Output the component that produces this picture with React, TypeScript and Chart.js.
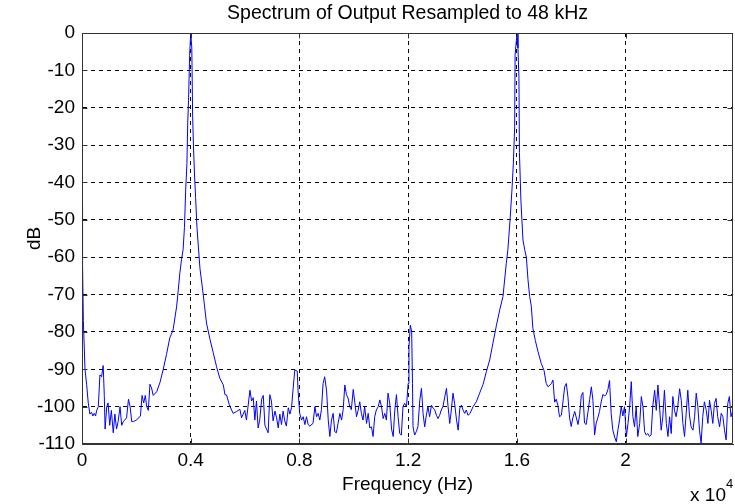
import React, { useEffect, useRef } from 'react';
import { Chart, registerables } from 'chart.js';

Chart.register(...registerables);

// ---- data ----
const freqHz: number[] = [
  0, 20, 50, 110, 170, 230, 290, 350, 400, 450,
  500, 540, 600, 660, 720, 780, 820, 850, 910, 960,
  1020, 1080, 1150, 1210, 1270, 1330, 1400, 1460, 1520, 1640,
  1710, 1770, 1830, 1890, 2020, 2150, 2210, 2270, 2330, 2380,
  2440, 2500, 2560, 2620, 2750, 2870, 2990, 3110, 3230, 3350,
  3480, 3540, 3600, 3660, 3720, 3770, 3815, 3860, 3890, 3920,
  3960, 4000, 4040, 4070, 4100, 4140, 4180, 4230, 4340, 4460,
  4580, 4710, 4830, 4950, 5070, 5200, 5260, 5320, 5420, 5560,
  5690, 5810, 5870, 5990, 6050, 6180, 6240, 6300, 6360, 6420,
  6480, 6540, 6610, 6670, 6730, 6850, 6910, 6970, 7030, 7100,
  7160, 7220, 7280, 7340, 7400, 7460, 7520, 7590, 7650, 7710,
  7770, 7830, 7920, 7950, 8010, 8080, 8140, 8200, 8260, 8320,
  8380, 8500, 8570, 8630, 8690, 8750, 8810, 8870, 8930, 9000,
  9060, 9120, 9180, 9240, 9300, 9360, 9420, 9490, 9550, 9610,
  9670, 9730, 9790, 9850, 9910, 9980, 10040, 10100, 10160, 10220,
  10280, 10340, 10400, 10470, 10530, 10590, 10650, 10710, 10770, 10830,
  10900, 10960, 11020, 11080, 11140, 11200, 11260, 11320, 11390, 11450,
  11510, 11570, 11630, 11690, 11750, 11810, 11870, 11940, 12000, 12030,
  12080, 12130, 12160, 12180, 12240, 12300, 12360, 12430, 12490, 12550,
  12610, 12670, 12730, 12790, 12860, 12920, 12980, 13040, 13100, 13160,
  13220, 13280, 13350, 13410, 13470, 13530, 13590, 13650, 13710, 13780,
  13840, 13900, 13960, 14020, 14080, 14140, 14200, 14270, 14390, 14510,
  14630, 14760, 14880, 15000, 15120, 15250, 15370, 15490, 15610, 15670,
  15750, 15820, 15870, 15920, 15935, 15970, 16010, 16040, 16077, 16095,
  16150, 16225, 16290, 16350, 16410, 16470, 16530, 16590, 16680, 16780,
  16900, 17000, 17080, 17150, 17270, 17330, 17390, 17450, 17510, 17570,
  17640, 17760, 17820, 17880, 17940, 18000, 18060, 18130, 18190, 18250,
  18310, 18370, 18430, 18490, 18550, 18620, 18680, 18740, 18800, 18860,
  18920, 18980, 19040, 19110, 19170, 19230, 19290, 19350, 19410, 19470,
  19530, 19600, 19660, 19720, 19780, 19840, 19900, 19960, 20030, 20090,
  20150, 20210, 20270, 20330, 20390, 20450, 20520, 20580, 20640, 20700,
  20760, 20820, 20880, 20940, 21000, 21070, 21130, 21190, 21250, 21310,
  21370, 21430, 21500, 21560, 21620, 21680, 21740, 21800, 21860, 21920,
  21990, 22050, 22110, 22170, 22230, 22290, 22350, 22410, 22480, 22540,
  22600, 22660, 22720, 22780, 22840, 22900, 22970, 23030, 23090, 23150,
  23210, 23270, 23330, 23390, 23460, 23520, 23580, 23640, 23700, 23760,
  23820, 23880, 23945,
];

const levelDb: number[] = [
  -46, -62, -77, -90, -94, -99, -102, -101.5, -102.5, -101.8,
  -102.5, -101, -100, -91.5, -92, -89, -97, -106, -100, -99,
  -105, -101, -107, -102, -106, -104, -100, -105, -104, -103,
  -98, -100, -104, -104, -103.5, -102.5, -97, -99, -97, -100,
  -101, -94, -95, -97, -96, -93.5, -90, -86, -81.6, -79.5,
  -73.3, -69, -64.3, -60.7, -58, -52, -42, -35, -24, -18,
  -6, 0, -4, -22, -30, -38, -44, -52, -63, -70,
  -77.6, -82, -85.6, -89.3, -92.4, -94.2, -96.8, -96.9, -99.5, -101.8,
  -101.3, -100.7, -103, -101, -103.6, -95.6, -98.5, -97.6, -103.6, -98.5,
  -105.7, -103.6, -98, -97, -105, -107, -96.8, -98.5, -103.8, -101.2,
  -103, -105.7, -102, -104.8, -101.2, -103.8, -105.2, -100.3, -102, -100.3,
  -95, -90.2, -90.5, -95.8, -101.8, -103.6, -102.7, -104.8, -102.7, -104.8,
  -105.2, -104.5, -100, -102.7, -101.8, -103.6, -100.8, -93.8, -92, -95.8,
  -103.6, -108, -103.6, -101.8, -106.7, -107, -104.5, -101.8, -103.6, -100.8,
  -94.2, -96.8, -97.7, -100, -100.8, -95.4, -99, -102.7, -101, -98.7,
  -101.8, -103.6, -100, -104.5, -101.8, -105.7, -105.4, -108, -102.7, -100.9,
  -100, -98.2, -100, -103.2, -101.8, -103.6, -96.4, -99, -106, -108,
  -100.9, -96.8, -102.7, -107.2, -107.6, -100, -99.1, -100, -93.8, -84,
  -78.2, -79.9, -93.8, -105.4, -107.6, -106.7, -105.4, -98.2, -95.1, -101.9,
  -105.4, -102.3, -100, -102.7, -99.6, -100.4, -100.9, -102.3, -103.2, -102.3,
  -100.9, -100, -97.3, -95.1, -100, -104.5, -100.9, -96.4, -99.1, -103.6,
  -106.3, -100.4, -99.6, -100.9, -101.8, -100.9, -102.3, -101.9, -100, -98.7,
  -96.4, -94, -90.6, -87.5, -83, -78.2, -74.1, -70.5, -61.7, -58,
  -50, -42, -35, -25, -6, -3, 0, -4, -12, -32,
  -45, -55.4, -58, -60, -66, -70.5, -73, -79, -82.3, -85.3,
  -88.5, -90.3, -93.8, -94.7, -93.8, -92.9, -98.8, -98, -99.7, -102.7,
  -102.3, -94.7, -93.8, -97.4, -103, -105.3, -103, -101.3, -103, -104.8,
  -102.2, -97.1, -96.2, -104.4, -104.8, -101.3, -98, -94.7, -98.3, -107.6,
  -104.4, -103, -101.3, -98.5, -96.7, -97.2, -96.7, -95.4, -93, -101.8,
  -106.2, -108.2, -109.4, -106.2, -103.5, -100, -102.5, -100, -108, -104.5,
  -100, -93.3, -102.7, -105.4, -100, -108, -104.5, -97.3, -100, -106.7,
  -107.6, -107.2, -108, -107.6, -100, -95.6, -101, -94.2, -100, -106.3,
  -102.7, -95.6, -104.5, -108, -102.7, -107.2, -97.3, -101, -102.7, -100,
  -95.2, -98.3, -104.5, -108, -101.8, -95.6, -102.2, -105.4, -106.3, -102.7,
  -96.4, -100, -106.3, -109.8, -102.7, -98.7, -101, -104.5, -98.3, -101,
  -104.5, -99.2, -97.8, -102.7, -105.4, -101.8, -102.7, -106.3, -108.9, -99.2,
  -97.3, -102.7, -101,
];

const xTickValues: number[] = [0, 4000, 8000, 12000, 16000, 20000];
const xTickLabels: string[] = ['0', '0.4', '0.8', '1.2', '1.6', '2'];
const yTickValues: number[] = [0, -10, -20, -30, -40, -50, -60, -70, -80, -90, -100, -110];
const xMin = 0;
const xMax = 23953;
const yMin = -110;
const yMax = 0;

const titleText = 'Spectrum of Output Resampled to 48 kHz';
const xAxisTitle = 'Frequency (Hz)';
const yAxisTitle = 'dB';
const xScaleBase = 'x 10';
const xScaleExponent = '4';

const FONT = '"Liberation Sans", Arial, Helvetica, sans-serif';
const FRAME = '#333333';

const matlabFrame = {
  id: 'matlabFrame',
  afterDatasetsDraw(chart: any) {
    const { ctx, chartArea, scales } = chart;
    const { left, right, top, bottom } = chartArea;
    const L = Math.round(left) + 0.5;
    const R = Math.round(right) - 0.5;
    const T = Math.round(top) + 0.5;
    const B = Math.round(bottom) - 0.5;
    ctx.save();
    ctx.setLineDash([]);
    ctx.strokeStyle = FRAME;
    ctx.lineWidth = 1;
    ctx.beginPath();
    // box
    ctx.moveTo(L, T); ctx.lineTo(R, T); ctx.lineTo(R, B); ctx.lineTo(L, B); ctx.closePath();
    // inward ticks
    const tl = 5;
    xTickValues.forEach((v) => {
      const px = Math.round(scales.x.getPixelForValue(v)) + 0.5;
      ctx.moveTo(px, B); ctx.lineTo(px, B - tl);
      ctx.moveTo(px, T); ctx.lineTo(px, T + tl);
    });
    yTickValues.forEach((v) => {
      const py = Math.round(scales.y.getPixelForValue(v)) + 0.5;
      ctx.moveTo(L, py); ctx.lineTo(L + tl, py);
      ctx.moveTo(R, py); ctx.lineTo(R - tl, py);
    });
    ctx.stroke();

    ctx.fillStyle = '#000';
    // title, centred over the axes
    ctx.textAlign = 'center';
    ctx.textBaseline = 'middle';
    ctx.font = `19.5px ${FONT}`;
    ctx.fillText(titleText, (left + right) / 2, 14);

    // "x 10^4" multiplier
    ctx.textBaseline = 'alphabetic';
    ctx.textAlign = 'right';
    ctx.font = `19px ${FONT}`;
    ctx.fillText(xScaleBase, 726, 501);
    ctx.textAlign = 'left';
    ctx.font = `13px ${FONT}`;
    ctx.fillText(xScaleExponent, 726, 488);
    ctx.restore();
  },
};

export default function App() {
  const canvasRef = useRef<HTMLCanvasElement | null>(null);

  useEffect(() => {
    const canvas = canvasRef.current;
    if (!canvas) return;
    const points = freqHz.map((f, i) => ({ x: f, y: levelDb[i] }));
    const chart = new Chart(canvas, {
      type: 'line',
      data: {
        datasets: [
          {
            data: points,
            borderColor: '#0000ff',
            borderWidth: 1,
            pointRadius: 0,
            tension: 0,
            fill: false,
          },
        ],
      },
      options: {
        animation: false,
        responsive: false,
        maintainAspectRatio: false,
        devicePixelRatio: 1,
        layout: { padding: { left: 0, right: 2, top: 33, bottom: 0 } },
        plugins: {
          legend: { display: false },
          tooltip: { enabled: false },
          title: { display: false },
        },
        scales: {
          x: {
            type: 'linear',
            min: xMin,
            max: xMax,
            afterBuildTicks: (scale: any) => {
              scale.ticks = xTickValues.map((v) => ({ value: v }));
            },
            afterFit: (scale: any) => {
              scale.height = 60;
            },
            ticks: {
              autoSkip: false,
              maxRotation: 0,
              minRotation: 0,
              padding: 5,
              color: '#000',
              font: { family: FONT, size: 19 },
              callback: (value: any) => {
                const i = xTickValues.indexOf(Number(value));
                return i >= 0 ? xTickLabels[i] : '';
              },
            },
            grid: { color: '#000', lineWidth: 1, drawTicks: false },
            border: { display: true, color: FRAME, width: 1, dash: [4, 4] },
            title: {
              display: true,
              text: xAxisTitle,
              color: '#000',
              font: { family: FONT, size: 19 },
              padding: { top: 0, bottom: 8 },
            },
          },
          y: {
            type: 'linear',
            min: yMin,
            max: yMax,
            afterBuildTicks: (scale: any) => {
              scale.ticks = yTickValues.map((v) => ({ value: v }));
            },
            afterFit: (scale: any) => {
              scale.width = 82;
            },
            ticks: {
              autoSkip: false,
              padding: 7,
              color: '#000',
              font: { family: FONT, size: 19 },
              callback: (value: any) => String(value),
            },
            grid: { color: '#000', lineWidth: 1, drawTicks: false },
            border: { display: true, color: FRAME, width: 1, dash: [4, 4] },
            title: {
              display: true,
              text: yAxisTitle,
              color: '#000',
              font: { family: FONT, size: 19 },
              padding: { top: 23.6, bottom: 0 },
            },
          },
        },
      },
      plugins: [matlabFrame],
    });
    return () => {
      chart.destroy();
    };
  }, []);

  return (
    <div style={{ position: 'absolute', left: 0, top: 0, width: 735, height: 504, background: '#fff' }}>
      <canvas ref={canvasRef} width={735} height={504} style={{ display: 'block', width: 735, height: 504 }} />
    </div>
  );
}
